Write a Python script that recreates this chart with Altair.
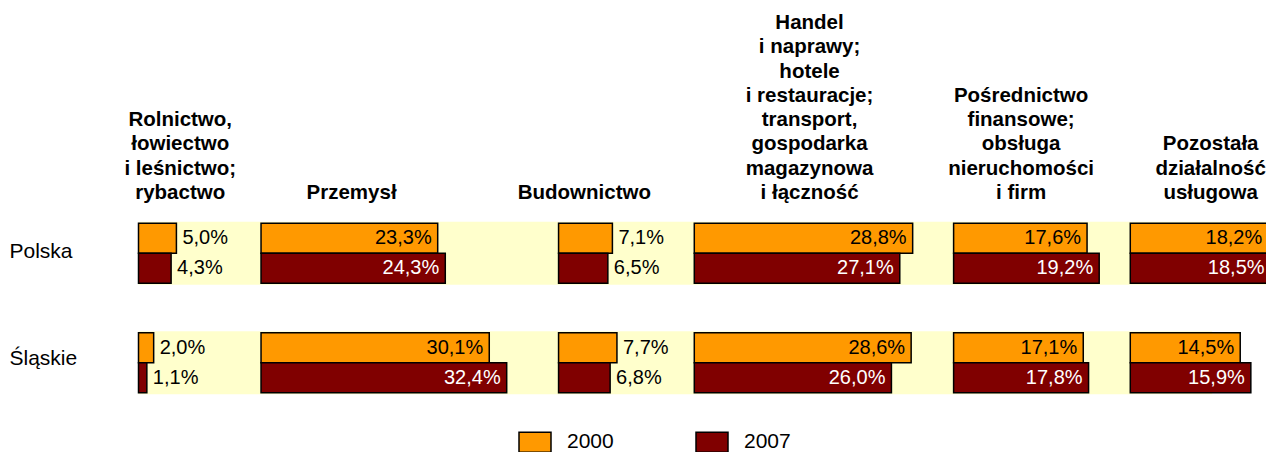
import altair as alt
import pandas as pd

# ---- data -----------------------------------------------------------------
sectors = ["Rolnictwo", "Przemysł", "Budownictwo", "Handel", "Pośrednictwo", "Pozostała"]
headers = [
    "Rolnictwo,\nłowiectwo\ni leśnictwo;\nrybactwo",
    "Przemysł",
    "Budownictwo",
    "Handel\ni naprawy;\nhotele\ni restauracje;\ntransport,\ngospodarka\nmagazynowa\ni łączność",
    "Pośrednictwo\nfinansowe;\nobsługa\nnieruchomości\ni firm",
    "Pozostała\ndziałalność\nusługowa",
]
rows = ["Polska", "Śląskie"]
years = ["2000", "2007"]
polska_2000 = [5.0, 23.3, 7.1, 28.8, 17.6, 18.2]
polska_2007 = [4.3, 24.3, 6.5, 27.1, 19.2, 18.5]
slaskie_2000 = [2.0, 30.1, 7.7, 28.6, 17.1, 14.5]
slaskie_2007 = [1.1, 32.4, 6.8, 26.0, 17.8, 15.9]

# ---- layout (in units of the percentage x scale) --------------------------
sector_start = [0.0, 16.16, 55.4, 73.3, 107.5, 130.8]
header_center = [5.5, 28.1, 58.8, 88.5, 116.4, 141.4]
band_end = {"Polska": 148.7, "Śląskie": 141.6}
X_MAX = 148.7
HEAD_BOTTOM = -28.7   # pixel centre of the last header line, relative to plot top
HEAD_STEP = 24.3      # header line spacing in pixels

FONT = "Liberation Sans"
ORANGE = "#FF9900"
DARKRED = "#800000"
YELLOW = "#FFFFCC"

records = []
for row, yr, vals in [
    ("Polska", "2000", polska_2000),
    ("Polska", "2007", polska_2007),
    ("Śląskie", "2000", slaskie_2000),
    ("Śląskie", "2007", slaskie_2007),
]:
    for i, v in enumerate(vals):
        records.append(dict(row=row, year=yr, sector=sectors[i], value=v, start=sector_start[i]))
df = pd.DataFrame(records)

band_df = pd.DataFrame({"row": rows, "x0": [0.0, 0.0], "x1": [band_end[r] for r in rows]})

head_records = []
for h, cx in zip(headers, header_center):
    lines = h.split("\n")
    n = len(lines)
    for j, ln in enumerate(lines):
        head_records.append(dict(line=ln, cx=cx, k=n - 1 - j))
head_df = pd.DataFrame(head_records)

xscale = alt.Scale(domain=[0, X_MAX], nice=False, zero=False)
yscale = alt.Scale(domain=rows, paddingInner=0.425, paddingOuter=0)
yoff_scale = alt.Scale(domain=years, paddingInner=0, paddingOuter=0.05)

yaxis = alt.Axis(
    title=None, domain=False, ticks=False, grid=False, labelAlign="left", labelPadding=129.5,
    labelFont=FONT, labelFontSize=21, labelColor="black",
    labelOffset={"condition": {"test": "datum.value == 'Śląskie'", "value": -4}, "value": -1},
)

bands = alt.Chart(band_df).mark_bar(color=YELLOW).encode(
    x=alt.X("x0:Q", scale=xscale, axis=None),
    x2="x1:Q",
    y=alt.Y("row:N", scale=yscale, axis=yaxis),
)

base = alt.Chart(df).transform_calculate(
    end="datum.start + datum.value",
    label="replace(format(datum.value, '.1f'), '.', ',') + '%'",
)

bars = base.mark_bar(stroke="black", strokeWidth=1.5).encode(
    x=alt.X("start:Q", scale=xscale, axis=None),
    x2="end:Q",
    y=alt.Y("row:N", scale=yscale, axis=None),
    yOffset=alt.YOffset("year:N", scale=yoff_scale),
    color=alt.Color(
        "year:N",
        scale=alt.Scale(domain=years, range=[ORANGE, DARKRED]),
        legend=alt.Legend(
            title=None, orient="none", direction="horizontal",
            legendX=385.5, legendY=209.5,
            symbolType="M-1.6,-1H1.6V1H-1.6Z", symbolSize=400,
            symbolStrokeColor="black", symbolStrokeWidth=1.5, symbolOpacity=1,
            labelFont=FONT, labelFontSize=21, labelColor="black",
            labelOffset=21, columnPadding=79,
        ),
    ),
)

inside = base.transform_filter("datum.value >= 10").mark_text(
    align="right", baseline="middle", dx=-6, font=FONT, fontSize=20
).encode(
    x=alt.X("end:Q", scale=xscale, axis=None),
    y=alt.Y("row:N", scale=yscale, axis=None),
    yOffset=alt.YOffset("year:N", scale=yoff_scale),
    text="label:N",
    color=alt.condition(alt.datum.year == "2000", alt.value("black"), alt.value("white")),
)

outside = base.transform_filter("datum.value < 10").mark_text(
    align="left", baseline="middle", dx=6, font=FONT, fontSize=20, color="black"
).encode(
    x=alt.X("end:Q", scale=xscale, axis=None),
    y=alt.Y("row:N", scale=yscale, axis=None),
    yOffset=alt.YOffset("year:N", scale=yoff_scale),
    text="label:N",
)

heads = alt.Chart(head_df).mark_text(
    align="center", baseline="middle", font=FONT, fontSize=20.5,
    fontWeight="bold", color="black",
).encode(
    x=alt.X("cx:Q", scale=xscale, axis=None),
    y=alt.Y("k:Q", scale=alt.Scale(domain=[0, 1], range=[HEAD_BOTTOM, HEAD_BOTTOM - HEAD_STEP]),
            axis=None),
    text="line:N",
)

chart = alt.layer(bands, bars, inside, outside, heads).resolve_scale(
    y="independent"
).properties(
    width=1127.5,
    height=172.5,
    autosize=alt.AutoSizeParams(type="none"),
    padding={"left": 138.5, "top": 221.7, "right": 0, "bottom": 57.8},
).configure(
    background="white",
    view=alt.ViewConfig(stroke=None),
)

chart.save("out.html", embed_options={"renderer": "svg", "actions": False})
